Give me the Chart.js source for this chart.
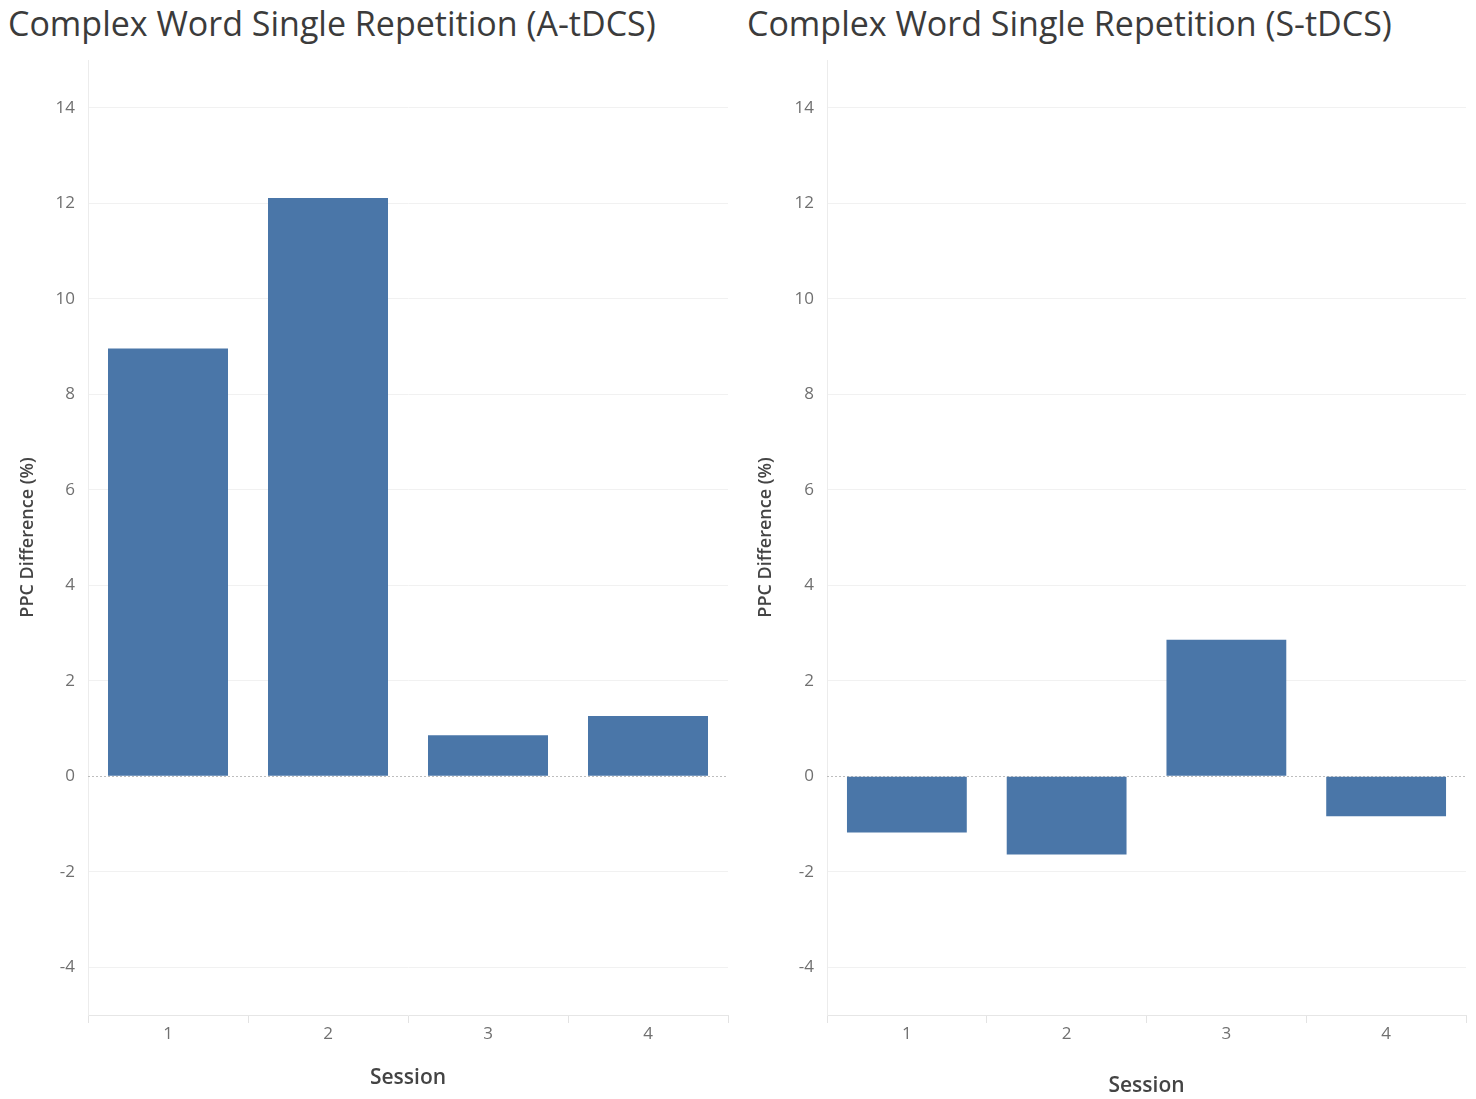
<!DOCTYPE html>
<html>
<head>
<meta charset="utf-8">
<script src="https://cdn.jsdelivr.net/npm/chart.js@4.4.0/dist/chart.umd.min.js"></script>
<style>
  html, body { margin: 0; padding: 0; background: #fff; }
  body { width: 1476px; height: 1099px; position: relative; overflow: hidden; }
  .panel { position: absolute; top: 0; height: 1099px; }
  .panel h2 {
    margin: 0; position: absolute; top: 0px; left: 8px;
    font: 400 34px "Open Sans", sans-serif; color: #3b3b3b; white-space: nowrap;
  }
  .panel canvas { position: absolute; top: 50px; left: 0; }
</style>
</head>
<body>
<div class="panel" style="left:0;width:738px;">
  <h2>Complex Word Single Repetition (A-tDCS)</h2>
  <canvas id="chartA" width="738" height="1049"></canvas>
</div>
<div class="panel" style="left:739px;width:737px;">
  <h2>Complex Word Single Repetition (S-tDCS)</h2>
  <canvas id="chartS" width="737" height="1049"></canvas>
</div>
<script>
const sessions = ["1", "2", "3", "4"];
const aTdcsValues = [8.96, 12.11, 0.86, 1.26];
const sTdcsValues = [-1.18, -1.64, 2.86, -0.84];
const yTickValues = [-4, -2, 0, 2, 4, 6, 8, 10, 12, 14];
const yMin = -5;
const yMax = 15;

const barColor = "#4a76a8";
const labelFont = "'Open Sans', sans-serif";

// dotted zero line like the reference
const zeroLine = {
  id: "zeroLine",
  beforeDatasetsDraw(chart) {
    const { ctx, chartArea, scales } = chart;
    const y = Math.round(scales.y.getPixelForValue(0)) + 0.5;
    ctx.save();
    ctx.strokeStyle = "#bdbdbd";
    ctx.lineWidth = 1;
    ctx.setLineDash([2, 2]);
    ctx.beginPath();
    ctx.moveTo(chartArea.left, y);
    ctx.lineTo(chartArea.right, y);
    ctx.stroke();
    ctx.restore();
  },
};

function makeChart(id, values, opts) {
  const ctx = document.getElementById(id).getContext("2d");
  return new Chart(ctx, {
    type: "bar",
    data: {
      labels: sessions,
      datasets: [{
        data: values,
        backgroundColor: barColor,
        barPercentage: 1,
        categoryPercentage: 0.75,
      }],
    },
    plugins: [zeroLine],
    options: {
      responsive: false,
      animation: false,
      layout: { padding: { top: 10, right: opts.right, left: 0, bottom: 0 } },
      plugins: { legend: { display: false }, tooltip: { enabled: false } },
      scales: {
        x: {
          afterFit: (scale) => {
            scale.height = 84;
            scale.paddingLeft = 0;
            scale.paddingRight = 0;
          },
          grid: {
            offset: true,
            drawOnChartArea: false,
            drawTicks: true,
            tickLength: 8,
            tickColor: "#e3e3e3",
          },
          border: { display: true, color: "#e6e6e6" },
          ticks: { color: "#707070", font: { family: labelFont, size: 17 }, padding: 1 },
          title: {
            display: true,
            text: "Session",
            color: "#444",
            font: { family: labelFont, size: 21, weight: 600 },
            padding: { top: 0, bottom: opts.sessionPad },
          },
        },
        y: {
          min: yMin,
          max: yMax,
          afterFit: (scale) => {
            scale.width = 88;
            scale.paddingTop = 0;
            scale.paddingBottom = 0;
          },
          afterBuildTicks: (scale) => {
            scale.ticks = yTickValues.map((v) => ({ value: v }));
          },
          grid: {
            drawTicks: false,
            color: (c) => (c.tick && c.tick.value === 0 ? "rgba(0,0,0,0)" : "#f1f1f1"),
          },
          border: { display: true, color: "#ececec" },
          ticks: { color: "#707070", font: { family: labelFont, size: 17 }, padding: 13 },
          title: {
            display: true,
            text: "PPC Difference (%)",
            color: "#444",
            font: { family: labelFont, size: 18, weight: 600 },
            padding: { top: opts.yTitlePad, bottom: 0 },
          },
        },
      },
    },
  });
}

makeChart("chartA", aTdcsValues, { right: 10, sessionPad: 8, yTitlePad: 17 });
makeChart("chartS", sTdcsValues, { right: 10, sessionPad: 0, yTitlePad: 16 });
</script>
</body>
</html>
